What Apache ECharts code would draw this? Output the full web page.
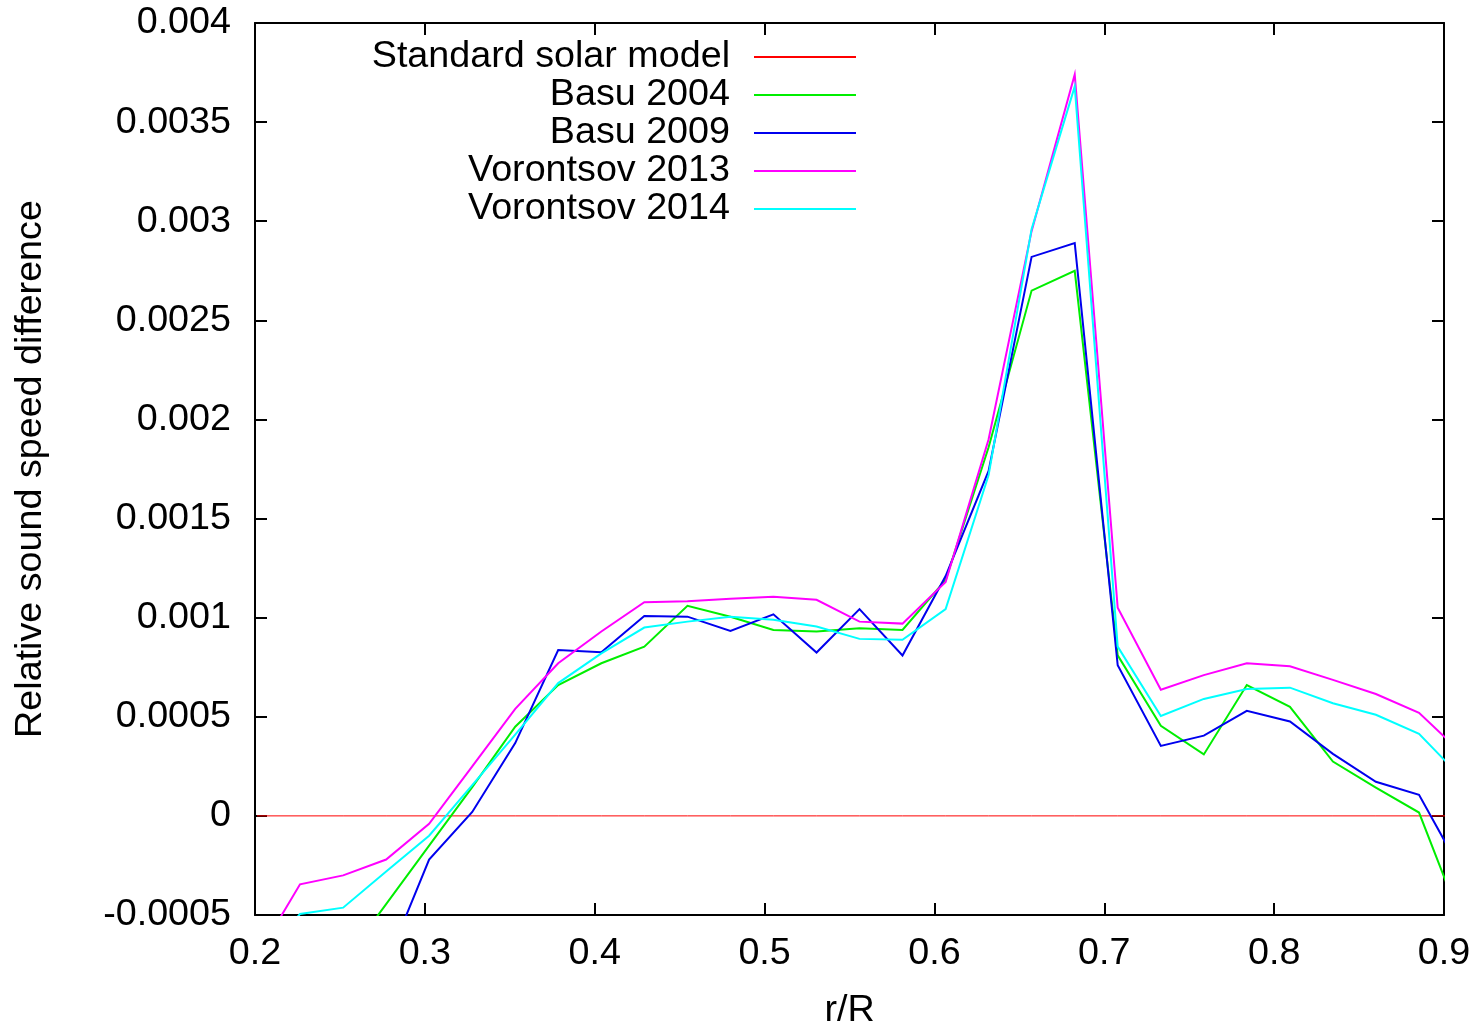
<!DOCTYPE html>
<html>
<head>
<meta charset="utf-8">
<title>Relative sound speed difference</title>
<script src="https://cdn.jsdelivr.net/npm/echarts@6/dist/echarts.min.js"></script>
<style>
  html, body { margin: 0; padding: 0; background: #fff; }
  #chart { width: 1482px; height: 1028px; }
</style>
</head>
<body>
<div id="chart"></div>
<script>
// Fractional radius r/R of each sample
const radius = [0.2012, 0.2265, 0.2519, 0.2772, 0.3025, 0.3279, 0.3532, 0.3785, 0.4039, 0.4292,
  0.4546, 0.4799, 0.5052, 0.5306, 0.5559, 0.5812, 0.6066, 0.6319, 0.6572, 0.6826,
  0.7079, 0.7333, 0.7586, 0.7839, 0.8093, 0.8346, 0.8599, 0.8853, 0.9106];

// Relative sound speed difference for each model (null = no sample)
const standardModel = [0, 0, 0, 0, 0, 0, 0, 0, 0, 0, 0, 0, 0, 0, 0, 0, 0, 0, 0, 0, 0, 0, 0, 0, 0, 0, 0, 0, 0];
const basu2004 = [null, null, -0.00074, -0.000445, -0.00015, 0.000145, 0.00045, 0.00066, 0.00077, 0.000854,
  0.00106, 0.001005, 0.000938, 0.00093, 0.000947, 0.000938, 0.00119, 0.00186, 0.00265, 0.00275,
  0.00081, 0.000454, 0.00031, 0.00066, 0.00055, 0.000274, 0.000143, 0.000017, -0.00054];
const basu2009 = [null, null, null, -0.00075, -0.00022, 0.00002, 0.000367, 0.000837, 0.000826, 0.001009,
  0.001005, 0.000933, 0.001017, 0.000824, 0.001043, 0.000809, 0.00121, 0.00174, 0.00282, 0.00289,
  0.00076, 0.000353, 0.000405, 0.00053, 0.000476, 0.000313, 0.000172, 0.000106, -0.000284];
const vorontsov2013 = [-0.00071, -0.000345, -0.0003, -0.00022, -0.00004, 0.00025, 0.00054, 0.00077, 0.00093, 0.001078,
  0.001083, 0.001096, 0.001106, 0.00109, 0.00098, 0.00097, 0.00118, 0.0019, 0.00295, 0.00374,
  0.00105, 0.000636, 0.00071, 0.00077, 0.000755, 0.000686, 0.000615, 0.00052, 0.000315];
const vorontsov2014 = [-0.00075, -0.000495, -0.000463, -0.00028, -0.0001, 0.000155, 0.00041, 0.00067, 0.00082, 0.00095,
  0.00098, 0.001005, 0.00099, 0.000955, 0.000893, 0.000888, 0.001043, 0.00172, 0.00296, 0.00368,
  0.000854, 0.000504, 0.00059, 0.00064, 0.000647, 0.000568, 0.00051, 0.000414, 0.00019];

// Axis tick labels
const xTickLabels = ['0.2', '0.3', '0.4', '0.5', '0.6', '0.7', '0.8', '0.9'];
const yTickLabels = ['-0.0005', '0', '0.0005', '0.001', '0.0015', '0.002', '0.0025', '0.003', '0.0035', '0.004'];

const seriesNames = ['Standard solar model', 'Basu 2004', 'Basu 2009', 'Vorontsov 2013', 'Vorontsov 2014'];
const seriesValues = [standardModel, basu2004, basu2009, vorontsov2013, vorontsov2014];
const seriesColors = ['#ff0000', '#00ee00', '#0000ee', '#ff00ff', '#00ffff'];
const seriesWidths = [1, 2, 2, 2, 2];

const FONT = 'Liberation Sans, Arial, Helvetica, sans-serif';
const FONT_SIZE = 37.7;

function pairs(values) {
  return radius.map((r, i) => [r, values[i]]);
}

const axisLineStyle = { onZero: false, lineStyle: { color: '#000', width: 2 } };
const tickStyle = { inside: true, length: 12, lineStyle: { color: '#000', width: 2 } };

const chart = echarts.init(document.getElementById('chart'), null, { renderer: 'canvas' });

chart.setOption({
  animation: false,
  backgroundColor: '#fff',
  grid: { left: 255, right: 38, top: 23, bottom: 113, containLabel: false, outerBoundsMode: 'none' },
  legend: {
    orient: 'vertical',
    right: 625,
    top: 38,
    align: 'right',
    itemWidth: 102,
    itemHeight: 14,
    itemGap: 0,
    padding: 0,
    selectedMode: false,
    itemStyle: { opacity: 0 },
    textStyle: { fontSize: FONT_SIZE, color: '#000', fontFamily: FONT, lineHeight: 38, padding: [0, 19, 0, 0] },
    data: seriesNames
  },
  xAxis: [
    {
      type: 'value', position: 'bottom', min: 0.2, max: 0.9, interval: 0.1,
      name: 'r/R', nameLocation: 'middle', nameGap: 77,
      nameTextStyle: { fontSize: FONT_SIZE, color: '#000', fontFamily: FONT },
      axisLine: axisLineStyle, axisTick: tickStyle, splitLine: { show: false },
      axisLabel: {
        fontSize: FONT_SIZE, color: '#000', fontFamily: FONT, margin: 20,
        formatter: (v, i) => xTickLabels[i]
      }
    },
    {
      type: 'value', position: 'top', min: 0.2, max: 0.9, interval: 0.1,
      axisLine: axisLineStyle, axisTick: tickStyle, splitLine: { show: false },
      axisLabel: { show: false }
    }
  ],
  yAxis: [
    {
      type: 'value', position: 'left', min: -0.0005, max: 0.004, interval: 0.0005,
      name: 'Relative sound speed difference', nameLocation: 'middle', nameGap: 205,
      nameTextStyle: { fontSize: FONT_SIZE, color: '#000', fontFamily: FONT },
      axisLine: axisLineStyle, axisTick: tickStyle, splitLine: { show: false },
      axisLabel: {
        fontSize: FONT_SIZE, color: '#000', fontFamily: FONT, margin: 24,
        formatter: (v, i) => yTickLabels[i]
      }
    },
    {
      type: 'value', position: 'right', min: -0.0005, max: 0.004, interval: 0.0005,
      axisLine: axisLineStyle, axisTick: tickStyle, splitLine: { show: false },
      axisLabel: { show: false }
    }
  ],
  series: seriesNames.map((name, i) => ({
    name: name,
    type: 'line',
    xAxisIndex: 0,
    yAxisIndex: 0,
    data: pairs(seriesValues[i]),
    showSymbol: false,
    symbol: 'none',
    clip: true,
    color: seriesColors[i],
    lineStyle: { color: seriesColors[i], width: seriesWidths[i], join: 'miter', cap: 'butt' },
    emphasis: { disabled: true },
    z: 2 + i
  }))
});
</script>
</body>
</html>
